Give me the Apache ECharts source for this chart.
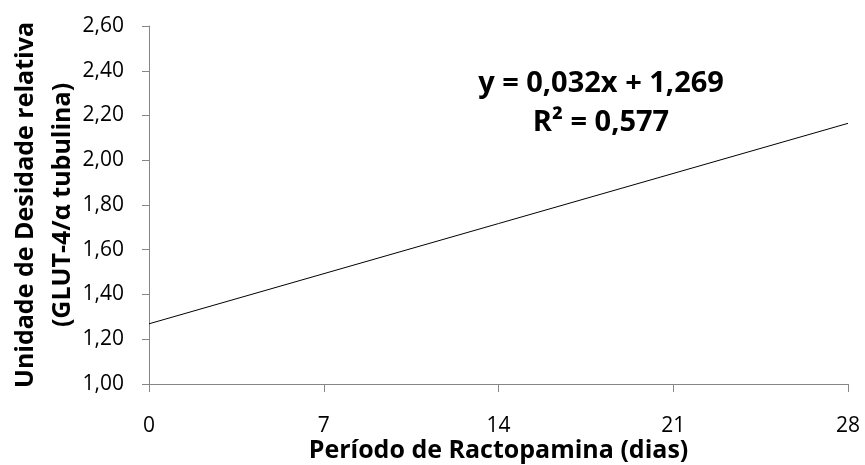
<!DOCTYPE html>
<html><head><meta charset="utf-8">
<script src="https://cdn.jsdelivr.net/npm/echarts@6/dist/echarts.min.js"></script>
<style>html,body{margin:0;padding:0;background:#fff}#c{width:865px;height:465px}</style>
</head><body><div id="c"></div>
<script>
const xTicks = [0, 7, 14, 21, 28];
const trendX = [0, 28];
const trendY = [1.269, 2.165];
const equationText = 'y = 0,032x + 1,269';
const r2Text = 'R² = 0,577';
const xTitle = 'Período de Ractopamina (dias)';
const yTitle = 'Unidade de Desidade relativa\n(GLUT-4/α tubulina)';

const FONT = 'Open Sans';
const chart = echarts.init(document.getElementById('c'));
chart.setOption({
  animation: false,
  backgroundColor: '#fff',
  grid: { left: 149, right: 17, top: 26, bottom: 81, containLabel: false, outerBoundsMode: 'none' },
  title: [
    { text: equationText, left: 596, top: 64, textAlign: 'center',
      textStyle: { fontFamily: FONT, fontWeight: 'bold', fontSize: 29, color: '#000' } },
    { text: r2Text, left: 596, top: 103, textAlign: 'center',
      textStyle: { fontFamily: FONT, fontWeight: 'bold', fontSize: 29, color: '#000' } }
  ],
  xAxis: {
    type: 'value', min: 0, max: 28, interval: 7,
    name: xTitle, nameLocation: 'middle', nameGap: 54, nameMoveOverlap: false,
    nameTextStyle: { fontFamily: FONT, fontWeight: 'bold', fontSize: 25, color: '#000' },
    axisLine: { lineStyle: { color: '#868686', width: 1 } },
    axisTick: { show: true, length: 8, lineStyle: { color: '#868686' } },
    axisLabel: { fontFamily: FONT, fontSize: 21, color: '#000', margin: 32,
      formatter: v => String(v) },
    splitLine: { show: false }
  },
  yAxis: {
    type: 'value', min: 1.0, max: 2.6, interval: 0.2,
    name: yTitle, nameLocation: 'middle', nameGap: 68, nameRotate: 90, nameMoveOverlap: false,
    nameTextStyle: { fontFamily: FONT, fontWeight: 'bold', fontSize: 25, color: '#000', lineHeight: 37 },
    axisLine: { show: true, lineStyle: { color: '#868686', width: 1 } },
    axisTick: { show: true, length: 7, lineStyle: { color: '#868686' } },
    axisLabel: { fontFamily: FONT, fontSize: 21, color: '#000', margin: 25,
      formatter: v => v.toFixed(2).replace('.', ',') },
    splitLine: { show: false }
  },
  series: [{
    type: 'line', data: trendX.map((x, i) => [x, trendY[i]]),
    symbol: 'none', lineStyle: { color: '#000', width: 1 }
  }]
});
</script></body></html>
